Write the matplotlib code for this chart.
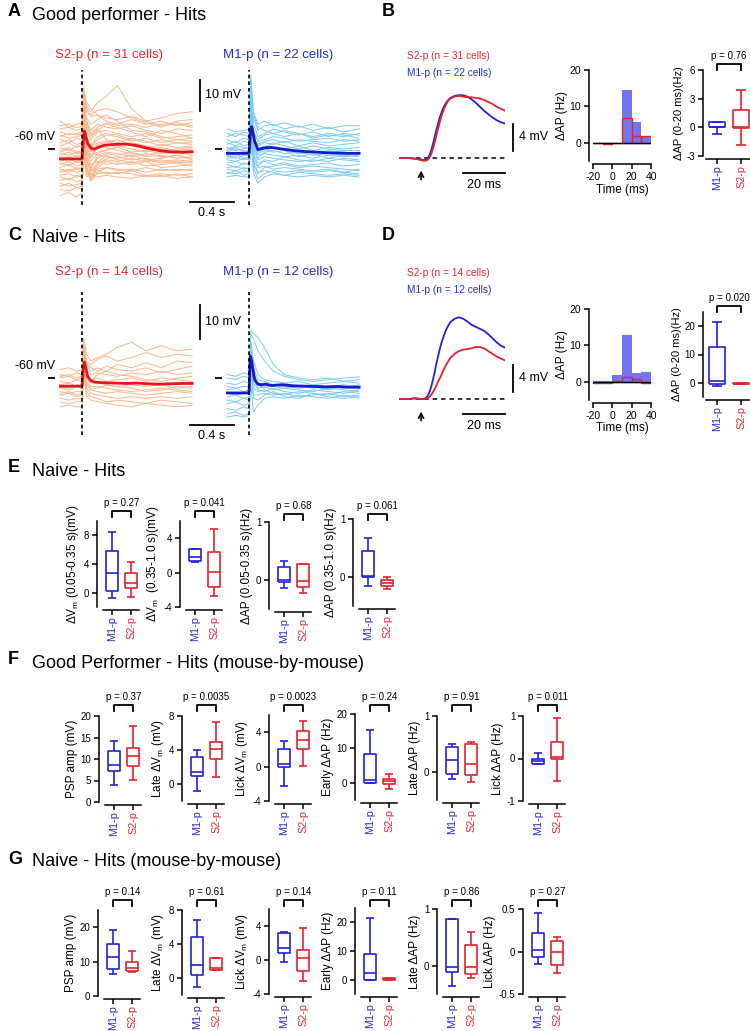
import matplotlib
matplotlib.use("Agg")
import matplotlib.pyplot as plt
import numpy as np
from matplotlib.lines import Line2D

plt.rcParams['font.family'] = ['Liberation Sans', 'DejaVu Sans']
plt.rcParams['mathtext.fontset'] = 'custom'
plt.rcParams['mathtext.rm'] = 'Liberation Sans'
plt.rcParams['mathtext.it'] = 'Liberation Sans:italic'
plt.rcParams['axes.linewidth'] = 1.1
plt.rcParams['axes.unicode_minus'] = False

# ---------------- data ----------------
# single-cell Vm traces, deviation from -60 mV, sampled at cell_t (s)
cell_t = [-0.2, -0.12, -0.05, 0.0, 0.015, 0.04, 0.08, 0.14, 0.22, 0.32, 0.45, 0.58, 0.72, 0.86, 1.0]
good_S2_cells = [
    [7.5, 8.0, 7.0, 7.2, 17.0, 12.0, 10.5, 11.0, 10.0, 9.5, 10.5, 9.0, 10.0, 11.5, 12.0],
    [4.0, 5.0, 4.5, 5.0, 20.0, 14.0, 12.0, 15.0, 17.0, 20.5, 13.0, 9.0, 7.5, 8.0, 7.0],
    [9.0, 7.0, 8.0, 8.5, 19.0, 15.0, 13.0, 11.0, 9.0, 8.0, 9.5, 8.0, 9.0, 7.5, 8.5],
    [2.0, 3.0, 1.5, 2.0, 14.0, 9.0, 6.0, 8.0, 7.0, 6.5, 7.5, 6.0, 5.0, 6.5, 6.0],
    [0.5, -0.5, 1.0, 0.5, 12.0, 6.0, 3.0, 5.5, 6.0, 5.0, 4.0, 5.0, 3.5, 4.0, 4.5],
    [5.5, 4.5, 5.0, 5.5, 15.0, 9.0, 4.0, 6.0, 8.0, 7.0, 5.5, 4.0, 6.0, 5.0, 3.5],
    [-1.0, 0.0, -1.5, -1.0, 11.0, 4.0, 1.0, 3.0, 4.5, 4.0, 2.5, 3.5, 2.0, 3.0, 2.5],
    [-2.5, -3.0, -2.0, -2.5, 10.0, 2.0, -1.0, 1.5, 2.0, 3.0, 1.0, 0.0, 1.5, 0.5, 1.0],
    [-3.5, -2.5, -4.0, -3.5, 9.0, 0.5, -2.0, 0.0, 1.5, 1.0, 0.0, -1.0, 0.5, -0.5, 0.0],
    [-4.5, -5.5, -4.0, -4.5, 8.0, -1.0, -4.0, -1.5, 0.0, 0.5, -1.0, -0.5, -1.5, -1.0, -2.0],
    [-6.0, -5.0, -6.5, -6.0, 6.0, -2.0, -6.0, -3.0, -1.5, -2.0, -1.0, -2.5, -2.0, -3.0, -2.5],
    [-7.0, -7.5, -6.5, -7.0, 5.0, -3.5, -8.0, -5.0, -3.0, -2.5, -3.5, -3.0, -4.0, -3.5, -4.0],
    [-8.5, -8.0, -9.0, -8.5, 4.0, -5.0, -10.0, -6.0, -4.0, -5.0, -4.0, -5.5, -5.0, -4.5, -5.5],
    [-10.0, -9.5, -10.5, -10.0, 2.0, -6.5, -10.5, -7.5, -6.0, -6.5, -7.0, -6.0, -7.0, -6.5, -7.0],
    [-12.0, -11.0, -12.5, -12.0, 0.0, -8.0, -9.0, -8.0, -7.5, -8.0, -7.0, -8.5, -8.0, -8.5, -8.0],
    [-15.0, -14.0, -15.5, -14.0, -1.0, -9.0, -8.0, -9.0, -8.5, -9.0, -9.5, -8.5, -9.0, -8.0, -9.0],
    [1.0, 2.0, 0.5, 1.5, 13.0, 7.0, 4.5, 6.5, 3.0, 2.0, 3.5, 2.5, 1.0, 2.0, 1.5],
    [-0.5, 0.5, -1.0, -0.5, 9.5, 3.0, 0.5, 2.0, 2.5, 1.5, 2.0, 1.0, 0.0, -1.0, -0.5],
    [3.0, 2.0, 3.5, 3.0, 16.0, 10.0, 8.0, 9.5, 11.0, 9.0, 6.0, 5.5, 4.0, 3.0, 3.5],
    [-2.0, -1.0, -2.5, -2.0, 7.0, 1.0, -0.5, -2.0, -2.5, -3.0, -2.0, -3.5, -3.0, -2.0, -3.0],
    [-5.0, -4.0, -5.5, -5.0, 5.0, -2.5, -5.0, -4.0, -5.0, -4.5, -5.0, -4.0, -6.0, -5.5, -5.0],
    [-9.0, -10.0, -8.5, -9.0, 3.0, -4.0, -7.0, -6.5, -6.0, -7.0, -6.5, -7.5, -6.5, -7.0, -6.5],
    [-11.0, -12.0, -11.5, -11.0, 1.0, -7.0, -9.5, -5.0, -3.5, -4.0, -3.0, -4.0, -3.5, -4.5, -4.0],
    [6.5, 7.0, 6.0, 6.5, 18.0, 13.0, 11.0, 12.5, 13.0, 12.0, 10.0, 8.5, 7.0, 9.0, 9.5],
    [-1.5, -2.0, -1.0, -1.5, 8.5, 2.5, 1.5, 4.0, 5.0, 4.5, 3.0, 2.0, 3.0, 2.0, 2.0],
    [-3.0, -4.0, -3.0, -3.5, 7.5, -0.5, -3.0, 1.0, 0.5, -0.5, -1.5, -2.0, -1.0, -1.5, -1.0],
    [-7.5, -6.5, -7.5, -7.0, 4.5, -4.5, -6.5, -2.0, -1.0, -1.5, -2.5, -1.5, -2.5, -2.0, -3.5],
    [-13.0, -13.5, -12.5, -13.0, 2.5, -6.0, -8.5, -7.0, -8.0, -7.5, -8.0, -9.0, -8.5, -9.5, -9.0],
    [4.5, 3.5, 4.0, 4.5, 14.0, 8.0, 5.0, 7.0, 8.5, 7.5, 8.0, 7.0, 8.0, 8.5, 7.5],
    [-4.0, -3.0, -4.5, -4.0, 6.5, 0.0, -2.5, -1.0, -0.5, 0.5, 1.5, 0.5, -0.5, 0.0, 0.5],
    [-6.5, -7.0, -6.0, -6.5, 5.5, -3.0, -7.0, -4.5, -2.0, -3.5, -4.5, -3.5, -4.5, -4.0, -4.5],
]
good_M1_cells = [
    [6.5, 5.5, 6.0, 6.5, 24.0, 12.0, 8.0, 9.0, 7.5, 8.5, 7.0, 8.0, 6.5, 7.5, 7.5],
    [4.0, 5.0, 4.5, 4.0, 20.0, 10.0, 6.0, 7.5, 8.0, 6.5, 7.5, 6.0, 7.0, 5.5, 6.5],
    [3.0, 2.0, 3.5, 3.0, 18.0, 8.0, 4.0, 5.0, 6.5, 5.5, 4.5, 5.5, 4.0, 5.0, 4.5],
    [1.5, 2.5, 1.0, 1.5, 16.0, 6.0, 2.5, 3.0, 4.0, 3.5, 2.5, 3.0, 3.5, 2.5, 3.0],
    [0.5, -0.5, 0.0, 0.5, 14.0, 4.0, 1.0, 2.0, 1.5, 2.5, 1.0, 2.0, 1.0, 1.5, 2.0],
    [-0.5, 0.5, -1.0, -0.5, 13.0, 3.0, 0.0, 1.0, 0.5, 0.0, 1.0, -0.5, 0.5, 0.0, 0.5],
    [-1.5, -2.0, -1.0, -1.5, 12.0, 1.5, -1.0, 0.0, -1.0, -0.5, -1.5, -1.0, -0.5, -1.0, -1.5],
    [-2.5, -1.5, -3.0, -2.5, 11.0, 0.5, -2.0, -1.5, -2.0, -2.5, -2.0, -3.0, -2.0, -2.5, -2.0],
    [-3.5, -4.0, -3.0, -3.5, 10.0, -1.0, -3.5, -2.5, -3.0, -3.5, -4.0, -3.5, -4.0, -3.0, -3.5],
    [-4.5, -4.0, -5.0, -4.5, 9.0, -2.0, -4.5, -4.0, -5.0, -4.5, -5.5, -5.0, -4.5, -5.5, -5.0],
    [-6.0, -5.5, -6.5, -6.0, 8.0, -3.5, -6.0, -5.5, -6.5, -6.0, -6.5, -7.0, -6.5, -7.5, -6.5],
    [-7.5, -8.0, -7.0, -7.5, 6.0, -5.0, -7.5, -7.0, -7.5, -8.5, -7.5, -8.0, -8.5, -8.0, -8.5],
    [-9.0, -8.5, -9.0, -9.0, 4.0, -8.0, -11.0, -9.0, -8.0, -8.5, -9.0, -8.5, -9.0, -8.5, -9.0],
    [2.0, 1.0, 2.5, 2.0, 15.0, 5.0, 3.0, 4.5, 5.0, 6.0, 5.0, 4.0, 5.0, 4.5, 3.5],
    [-1.0, 0.0, -0.5, -1.0, 11.5, 2.0, -0.5, 0.5, 2.0, 1.0, 0.0, 1.0, 0.0, -0.5, -0.5],
    [-3.0, -2.5, -3.5, -3.0, 9.5, 0.0, -3.0, -1.0, -0.5, -1.5, -1.0, -2.0, -1.5, -2.0, -2.5],
    [-5.0, -6.0, -4.5, -5.0, 8.5, -2.5, -5.5, -3.5, -4.0, -2.5, -3.5, -4.0, -3.0, -3.5, -4.0],
    [-6.5, -7.0, -6.0, -6.5, 7.0, -4.0, -8.0, -6.0, -5.5, -5.0, -6.0, -5.5, -6.0, -6.5, -7.0],
    [5.0, 4.0, 5.5, 5.0, 21.0, 11.0, 7.0, 6.0, 5.0, 4.0, 5.0, 3.5, 4.5, 4.0, 5.0],
    [0.0, 1.0, 0.5, 0.0, 12.5, 3.5, 1.5, 2.5, 3.0, 2.0, 3.0, 2.5, 2.0, 3.0, 2.5],
    [-2.0, -3.0, -2.0, -2.0, 10.5, 1.0, -1.5, -0.5, 0.5, -0.5, -2.5, -1.5, -3.0, -2.0, -1.0],
    [-8.0, -7.0, -8.5, -8.0, 5.0, -6.0, -9.5, -8.0, -7.0, -7.5, -7.0, -7.5, -7.0, -7.5, -8.0],
]
naive_S2_cells = [
    [2.5, 3.0, 2.0, 2.5, 11.5, 7.0, 5.0, 6.0, 7.0, 9.0, 10.5, 8.0, 9.5, 8.0, 8.5],
    [1.0, 0.5, 1.5, 1.0, 10.0, 5.0, 4.0, 5.5, 6.5, 5.0, 6.0, 7.5, 6.0, 7.0, 6.5],
    [0.0, 0.5, -0.5, 0.0, 9.0, 4.0, 2.0, 3.0, 2.0, 4.0, 3.0, 4.5, 3.0, 5.0, 4.5],
    [-1.0, -1.5, -0.5, -1.0, 8.0, 2.5, 1.0, 1.5, 1.0, 0.5, 1.5, 1.0, 2.0, 1.0, 1.5],
    [-2.0, -1.5, -2.5, -2.0, 7.0, 1.0, -0.5, 0.0, -1.0, -0.5, 0.0, -1.0, 0.0, -0.5, -1.0],
    [-3.0, -3.5, -2.5, -3.0, 6.0, 0.0, -1.5, -1.0, -2.0, -2.5, -2.0, -2.5, -2.0, -3.0, -2.5],
    [-4.0, -4.5, -4.0, -4.0, 5.0, -1.0, -2.5, -2.5, -3.0, -3.5, -4.0, -3.5, -3.0, -3.5, -4.0],
    [-5.0, -4.5, -5.5, -5.0, 4.0, -2.0, -3.5, -4.0, -4.5, -4.0, -4.5, -5.0, -4.5, -4.0, -4.5],
    [-6.0, -6.5, -6.0, -6.0, 3.0, -3.0, -4.5, -5.0, -5.5, -6.0, -5.5, -6.0, -5.5, -6.0, -5.5],
    [-7.0, -7.5, -7.0, -7.0, 2.0, -4.0, -5.5, -6.0, -7.0, -6.5, -7.0, -7.5, -6.5, -7.0, -7.5],
    [-8.5, -8.0, -8.5, -8.5, 1.0, -5.0, -6.5, -7.0, -7.5, -8.0, -8.5, -7.5, -8.0, -8.5, -8.0],
    [0.5, 1.0, 0.0, 0.5, 9.5, 4.5, 3.0, 2.0, 3.5, 2.5, 2.0, 3.0, 1.5, 2.5, 3.5],
    [-2.5, -3.0, -2.0, -2.5, 6.5, 0.5, -1.0, 1.0, 2.0, 1.0, 0.5, -0.5, -1.0, 0.0, 0.5],
    [-4.5, -4.0, -5.0, -4.5, 4.5, -1.5, -3.0, -3.0, -2.0, -2.5, -3.0, -4.0, -3.5, -2.5, -3.0],
]
naive_M1_cells = [
    [1.0, 0.5, 1.5, 1.0, 14.0, 13.0, 12.0, 9.0, 4.0, 1.0, 0.0, -0.5, 0.0, -1.0, -0.5],
    [0.0, -0.5, 0.5, 0.0, 13.0, 11.5, 8.0, 5.0, 2.0, 0.5, -0.5, -1.0, -0.5, 0.0, 0.3],
    [-1.5, -2.0, -1.0, -1.5, 11.0, 5.0, 1.0, -0.5, -1.0, -1.5, -1.0, -2.0, -1.5, -1.0, -1.5],
    [-2.5, -3.0, -2.5, -2.5, 10.0, 3.0, -0.5, -1.0, -2.0, -1.5, -2.5, -2.0, -2.5, -2.0, -2.5],
    [-3.5, -3.0, -4.0, -3.5, 9.0, 1.5, -1.5, -2.0, -2.5, -3.0, -2.5, -3.0, -2.5, -3.0, -2.0],
    [-4.5, -5.0, -4.5, -4.5, 8.0, 0.5, -2.0, -3.0, -2.0, -2.5, -3.0, -2.5, -3.5, -2.5, -3.0],
    [-5.5, -5.0, -6.0, -5.5, 7.0, -0.5, -3.0, -2.5, -3.5, -3.0, -3.5, -4.0, -3.0, -3.5, -4.0],
    [-6.5, -7.0, -6.0, -6.5, 6.0, -1.5, -3.5, -4.0, -3.0, -4.0, -4.5, -3.5, -4.0, -4.5, -3.5],
    [-7.5, -7.0, -8.0, -7.5, 5.0, -3.0, -4.0, -3.5, -4.5, -5.0, -4.0, -4.5, -5.0, -4.0, -4.5],
    [-9.0, -9.5, -8.5, -9.0, 3.0, -5.0, -5.0, -4.5, -5.0, -4.5, -5.5, -5.0, -4.5, -5.5, -5.0],
    [-10.5, -10.0, -11.0, -10.5, -2.0, -10.0, -8.0, -6.0, -5.5, -6.0, -5.0, -5.5, -6.0, -5.0, -5.9],
    [-11.5, -11.0, -11.5, -11.0, 2.0, -6.0, -6.5, -5.0, -4.0, -5.5, -6.0, -4.5, -5.5, -6.0, -5.5],
]
# population means (deviation from -60 mV)
mean_t = [-0.2, -0.1, -0.01, 0.0, 0.01, 0.02, 0.03, 0.05, 0.08, 0.11, 0.15, 0.2, 0.3, 0.4, 0.5, 0.6, 0.7, 0.8, 0.9, 1.0]
good_S2_mean = [-3.2, -3.2, -3.2, -3.0, 2.0, 5.8, 4.8, 1.8, 0.3, -0.1, 0.6, 1.2, 1.5, 1.6, 1.1, 0.2, -0.5, -0.9, -1.0, -0.9]
good_M1_mean = [-1.4, -1.4, -1.4, -1.2, 4.0, 7.2, 6.4, 2.5, -0.2, 0.1, 0.4, 0.5, 0.0, -0.5, -0.8, -1.0, -1.2, -1.3, -1.4, -1.4]
naive_S2_mean = [-2.4, -2.4, -2.4, -2.2, 2.5, 4.7, 3.5, 0.5, -0.8, -1.2, -1.3, -1.4, -1.5, -1.6, -1.5, -1.7, -1.8, -1.7, -1.6, -1.6]
naive_M1_mean = [-4.4, -4.4, -4.4, -4.0, 6.5, 5.5, 3.5, -0.5, -1.8, -2.0, -1.8, -2.2, -2.0, -2.3, -2.4, -2.5, -2.6, -2.5, -2.7, -2.7]

# early PSP averages (ms, mV)
psp_t = [-10, -6, -3, 0, 1, 2, 3, 4, 5, 6, 7, 8, 9, 10, 11, 12, 13, 14, 16, 18, 20, 22, 24, 26, 28, 30, 32, 34, 36, 38, 40]
good_M1_psp = [0, 0, -0.1, -0.2, -0.3, -0.3, -0.1, 0.4, 1.3, 2.5, 3.8, 5.0, 6.1, 7.0, 7.7, 8.2, 8.6, 8.9, 9.2, 9.3, 9.3, 9.1, 8.7, 8.2, 7.6, 7.0, 6.5, 6.0, 5.6, 5.3, 5.1]
good_S2_psp = [0, 0, -0.1, -0.3, -0.4, -0.4, -0.3, 0.0, 0.7, 1.7, 2.9, 4.2, 5.4, 6.5, 7.3, 8.0, 8.5, 8.8, 9.1, 9.2, 9.1, 9.0, 9.0, 8.9, 8.8, 8.6, 8.3, 8.0, 7.6, 7.3, 7.0]
naive_M1_psp = [0, 0, 0.1, 0, 0, 0.1, 0.4, 1.0, 2.0, 3.3, 4.8, 6.2, 7.5, 8.6, 9.5, 10.3, 10.9, 11.4, 11.9, 12.1, 11.9, 11.5, 11.0, 10.7, 10.4, 10.1, 9.6, 9.0, 8.4, 7.9, 7.6]
naive_S2_psp = [0, 0, 0.1, 0, 0, 0, 0.1, 0.3, 0.7, 1.2, 1.8, 2.5, 3.1, 3.8, 4.5, 5.1, 5.6, 6.1, 6.7, 7.1, 7.3, 7.4, 7.5, 7.7, 7.7, 7.5, 7.1, 6.7, 6.3, 6.0, 5.7]

# PSTH of delta AP (Hz), 10-ms bins
hist_left = [-20, -10, 0, 10, 20, 30]
good_M1_hist = [-0.1, -0.2, -0.1, 14.5, 5.7, 1.7]
good_S2_hist = [0.0, -0.3, -0.1, 6.8, 1.8, 1.8]
naive_M1_hist = [0.3, 0.3, 1.9, 12.8, 2.5, 2.8]
naive_S2_hist = [-0.2, -0.2, 0.2, 1.3, 0.9, -0.2]

# box plot summaries: [whisker low, q1, median, q3, whisker high]
B_m1 = [-0.65, 0.0, 0.0, 0.55, 0.55];  B_s2 = [-1.9, -0.05, 0.05, 1.78, 3.95]
D_m1 = [-1.0, -0.5, 0.8, 12.6, 21.5];  D_s2 = [-0.4, -0.3, -0.3, -0.2, -0.2]
E_m1 = [[-0.8, 0.3, 2.7, 5.8, 8.4], [1.2, 1.3, 1.8, 2.8, 2.8], [-0.13, -0.03, 0.0, 0.22, 0.32], [-0.15, 0.0, 0.02, 0.45, 0.68]]
E_s2 = [[-0.6, 0.7, 1.3, 2.7, 4.3], [-2.7, -1.7, 0.1, 2.4, 5.1], [-0.22, -0.12, -0.02, 0.28, 0.28], [-0.2, -0.15, -0.1, -0.05, 0.0]]
F_m1 = [[4.0, 7.2, 8.6, 11.9, 14.3], [-0.8, 1.0, 1.4, 3.2, 4.0], [-2.2, 0.0, 0.3, 2.0, 3.0],
        [0.0, 0.0, 0.7, 8.5, 15.3], [-0.13, -0.03, 0.22, 0.45, 0.5], [-0.13, -0.13, -0.05, 0.0, 0.13]]
F_s2 = [[5.2, 8.3, 10.8, 12.5, 17.7], [0.8, 3.0, 4.1, 5.0, 7.3], [0.1, 2.1, 3.1, 4.1, 5.3],
        [-1.7, -0.3, 0.5, 1.2, 2.6], [-0.18, -0.05, 0.15, 0.5, 0.54], [-0.53, -0.02, 0.03, 0.4, 0.95]]
G_m1 = [[6.3, 7.8, 11.3, 15.0, 19.2], [-1.1, 0.4, 1.5, 4.8, 6.8], [-0.2, 0.8, 1.4, 3.2, 3.3],
        [0.0, 0.0, 2.2, 8.8, 21.5], [-0.35, -0.12, -0.02, 0.83, 0.83], [-0.15, -0.06, 0.02, 0.22, 0.45]]
G_s2 = [[7.0, 7.3, 8.0, 9.9, 13.0], [0.9, 0.9, 1.2, 2.4, 2.4], [-2.5, -1.3, 0.2, 1.2, 3.8],
        [0.0, 0.0, 0.2, 0.5, 0.5], [-0.22, -0.15, -0.02, 0.37, 0.6], [-0.25, -0.16, 0.0, 0.12, 0.17]]
E_p = ['0.27', '0.041', '0.68', '0.061']
F_p = ['0.37', '0.0035', '0.0023', '0.24', '0.91', '0.011']
G_p = ['0.14', '0.61', '0.14', '0.11', '0.86', '0.27']
B_p, D_p = '0.76', '0.020'
groups = ['M1-p', 'S2-p']
E_labels = [r'ΔV$_\mathregular{m}$ (0.05-0.35 s)(mV)', r'ΔV$_\mathregular{m}$  (0.35-1.0 s)(mV)',
            'ΔAP (0.05-0.35 s)(Hz)', 'ΔAP (0.35-1.0 s)(Hz)']
FG_labels = ['PSP amp (mV)', r'Late ΔV$_\mathregular{m}$ (mV)', r'Lick ΔV$_\mathregular{m}$ (mV)',
             'Early ΔAP (Hz)', 'Late ΔAP (Hz)', 'Lick ΔAP (Hz)']

# ---------------- style ----------------
RED, BLUE = '#e3232c', '#2323d6'
RED_T, BLUE_T = '#e8282f', '#2a2ad8'
RED_LIGHT, BLUE_LIGHT = '#fbb68c', '#7ccaf2'
RED_MEAN, BLUE_MEAN = '#e5151b', '#1818c8'
HIST_BLUE = '#7474f0'

W, H = 750, 1031
fig = plt.figure(figsize=(7.5, 10.31), dpi=100)


def ax_px(x0, y0, x1, y1):
    return fig.add_axes([x0 / W, 1 - y1 / H, (x1 - x0) / W, (y1 - y0) / H])


def ftext(x, y, s, **kw):
    kw.setdefault('va', 'center')
    fig.text(x / W, 1 - y / H, s, **kw)


def fline(xs, ys, **kw):
    fig.add_artist(Line2D([x / W for x in xs], [1 - y / H for y in ys],
                          transform=fig.transFigure, **kw))


def panel_title(letter, title, y):
    ftext(8, y - 3, letter, fontsize=13, fontweight='bold', ha='left')
    ftext(32, y, title, fontsize=13, ha='left')


# ---------------- trace panels (A, C) ----------------
PXS = 110.0  # px per second


def trace_axes(x0, y_top, y_bot, y60, pxmv, cells, mean, c_light, c_mean):
    t0, t1 = -0.21, 1.02
    ax = ax_px(x0, y_top, x0 + (t1 - t0) * PXS, y_bot)
    ax.set_xlim(t0, t1)
    ax.set_ylim(-60 - (y_bot - y60) / pxmv, -60 + (y60 - y_top) / pxmv)
    for tr in cells:
        ax.plot(cell_t, -60 + np.array(tr), color=c_light, lw=0.7)
    ax.plot(mean_t, -60 + np.array(mean), color=c_mean, lw=2.0)
    ax.axvline(0, color='k', ls=(0, (2.2, 1.8)), lw=1.2)
    for sp in ax.spines.values():
        sp.set_visible(False)
    ax.set_xticks([])
    ax.set_yticks([-60])
    ax.set_yticklabels([''])
    ax.spines['left'].set_position(('outward', 3))
    ax.tick_params(axis='y', length=5, width=1.3)
    ax.patch.set_alpha(0)
    return ax


def trace_row(y_top, y_bot, y60, pxmv, s2c, s2m, m1c, m1m, n_s2, n_m1, lab_y):
    trace_axes(59, y_top, y_bot, y60, pxmv, s2c, s2m, RED_LIGHT, RED_MEAN)
    trace_axes(226, y_top, y_bot, y60, pxmv, m1c, m1m, BLUE_LIGHT, BLUE_MEAN)
    ftext(109, lab_y, f'S2-p (n = {n_s2} cells)', color=RED_T, fontsize=9.5, ha='center')
    ftext(278, lab_y, f'M1-p (n = {n_m1} cells)', color=BLUE_T, fontsize=9.5, ha='center')
    ftext(35, y60 - 12, '-60 mV', fontsize=9, ha='center')


panel_title('A', 'Good performer - Hits', 15)
trace_row(70, 205, 149, 3.1, good_S2_cells, good_S2_mean, good_M1_cells, good_M1_mean,
          len(good_S2_cells), len(good_M1_cells), 55)
fline([200, 200], [80, 80 + 10 * 3.1], color='k', lw=1.3)
ftext(205, 95, '10 mV', fontsize=9, ha='left')
fline([190, 190 + 0.4 * PXS], [202, 202], color='k', lw=1.3)
ftext(212, 213, '0.4 s', fontsize=9, ha='center')

panel_title('C', 'Naive - Hits', 238)
trace_row(292, 435, 378, 3.4, naive_S2_cells, naive_S2_mean, naive_M1_cells, naive_M1_mean,
          len(naive_S2_cells), len(naive_M1_cells), 272)
fline([200, 200], [305, 305 + 10 * 3.4], color='k', lw=1.3)
ftext(205, 322, '10 mV', fontsize=9, ha='left')
fline([190, 190 + 0.4 * PXS], [425, 425], color='k', lw=1.3)
ftext(212, 436, '0.4 s', fontsize=9, ha='center')

# ---------------- PSP averages (B, D) ----------------
PXMS, PXMV = 2.1, 6.75


def psp_axes(y_top, y_bot, y0, m1, s2, n_s2, n_m1, lab_y):
    x0 = 399
    ax = ax_px(x0, y_top, x0 + 50.5 * PXMS, y_bot)
    ax.set_xlim(-10.5, 40)
    ax.set_ylim(-(y_bot - y0) / PXMV, (y0 - y_top) / PXMV)
    ax.axhline(0, color='k', ls=(0, (3, 2.5)), lw=1.1)
    ax.plot(psp_t, m1, color=BLUE, lw=1.3)
    ax.plot(psp_t, s2, color=RED, lw=1.3)
    ax.axis('off')
    ax.annotate('', xy=(0, -1.45), xytext=(0, -3.6), annotation_clip=False,
                arrowprops=dict(arrowstyle='->,head_length=0.35,head_width=0.18', lw=1.2, color='k'))
    ftext(407, lab_y, f'S2-p (n = {n_s2} cells)', color=RED_T, fontsize=7.3, ha='left')
    ftext(407, lab_y + 17, f'M1-p (n = {n_m1} cells)', color=BLUE_T, fontsize=7.3, ha='left')
    # scale bars
    yb = y0 - 34
    fline([513, 513], [yb, yb + 4 * PXMV], color='k', lw=1.3)
    ftext(519, yb + 2 * PXMV, '4 mV', fontsize=9, ha='left')
    fline([463, 463 + 20 * PXMS], [y0 + 15, y0 + 15], color='k', lw=1.3)
    ftext(484, y0 + 27, '20 ms', fontsize=9, ha='center')
    return ax


def hist_axes(y_top, y_bot, m1h, s2h):
    ax = ax_px(593, y_top, 651, y_bot)
    ax.bar(hist_left, m1h, width=10, align='edge', color=HIST_BLUE, lw=0)
    ax.bar(hist_left, s2h, width=10, align='edge', facecolor='none', edgecolor=RED, lw=1.0)
    ax.axhline(0, color='k', lw=1.0)
    ax.set_xlim(-20, 40)
    ax.set_ylim(-5, 20)
    ax.set_xticks([-20, 0, 20, 40])
    ax.set_yticks([0, 10, 20])
    for s in ['top', 'right']:
        ax.spines[s].set_visible(False)
    ax.spines['left'].set_position(('outward', 3))
    ax.spines['bottom'].set_position(('outward', 2.5))
    ax.tick_params(labelsize=7.5, length=3.5, width=1.1, pad=2)
    ax.set_ylabel('ΔAP (Hz)', fontsize=8.5, labelpad=1)
    ax.set_xlabel('Time (ms)', fontsize=8.5, labelpad=1)
    ax.patch.set_alpha(0)
    return ax


def box_axes(x_m1, sp, y_top, y_bot, ylim, yticks, m1, s2, ylabel, p, br_y, yoff=4.7,
             width=0.62, fs_lab=8.5):
    xl = (-0.45, 1.4)
    ax = ax_px(x_m1 + xl[0] * sp, y_top, x_m1 + xl[1] * sp, y_bot)
    stats = [dict(whislo=s[0], q1=s[1], med=s[2], q3=s[3], whishi=s[4], fliers=[]) for s in (m1, s2)]
    art = ax.bxp(stats, positions=[0, 1], widths=width, showfliers=False, manage_ticks=False,
                 capwidths=width * 0.6)
    for i, c in enumerate([BLUE, RED]):
        for a in [art['boxes'][i], art['medians'][i], art['whiskers'][2 * i], art['whiskers'][2 * i + 1],
                  art['caps'][2 * i], art['caps'][2 * i + 1]]:
            a.set_color(c)
            a.set_linewidth(1.2)
            a.set_solid_capstyle('butt')
    ax.set_xlim(*xl)
    ax.set_ylim(*ylim)
    ax.set_yticks(yticks)
    ax.set_yticklabels([f'{v:g}' for v in yticks])
    ax.set_xticks([0, 1])
    ax.set_xticklabels(groups)
    for s in ['top', 'right']:
        ax.spines[s].set_visible(False)
    ax.spines['left'].set_position(('outward', yoff))
    ax.spines['bottom'].set_position(('outward', 2.2))
    ax.tick_params(axis='y', labelsize=7, length=3.5, width=1.1, pad=2)
    ax.tick_params(axis='x', length=3.5, width=1.1, pad=0.8, labelrotation=90, labelsize=7.8)
    for lbl, c in zip(ax.get_xticklabels(), [BLUE_T, RED_T]):
        lbl.set_color(c)
    ax.set_ylabel(ylabel, fontsize=fs_lab, labelpad=2)
    ax.patch.set_alpha(0)
    # significance bracket
    xa, xb = x_m1, x_m1 + sp
    fline([xa, xa, xb, xb], [br_y + 6, br_y, br_y, br_y + 6], color='k', lw=1.3)
    ftext((xa + xb) / 2, br_y - 8, f'p = {p}', fontsize=7, ha='center')
    return ax


ftext(382, 12, 'B', fontsize=13, fontweight='bold', ha='left')
psp_axes(80, 185, 158, good_M1_psp, good_S2_psp, 31, 22, 56)
hist_axes(70, 161, good_M1_hist, good_S2_hist)
box_axes(717, 24, 70, 156, (-3, 6), [-3, 0, 3, 6], B_m1, B_s2, 'ΔAP (0-20 ms)(Hz)', B_p, 64,
         yoff=2.4, width=0.68, fs_lab=8)

ftext(382, 235, 'D', fontsize=13, fontweight='bold', ha='left')
psp_axes(305, 420, 399, naive_M1_psp, naive_S2_psp, 14, 12, 273)
hist_axes(309, 400, naive_M1_hist, naive_S2_hist)
box_axes(717, 24, 312, 397, (-5, 25), [0, 10, 20], D_m1, D_s2, 'ΔAP (0-20 ms)(Hz)', D_p, 306,
         yoff=2.4, width=0.68, fs_lab=8)

# ---------------- E ----------------
panel_title('E', 'Naive - Hits', 471)
E_geom = [(112, 521, 607, (-2, 10), [0, 4, 8], 511),
          (195, 521, 607, (-4, 6), [-4, 0, 4], 511),
          (284, 522, 609, (-0.5, 1), [0, 1], 514),
          (368, 519, 606, (-0.5, 1), [0, 1], 514)]
for i, (xm, yt, yb, yl, yt_, bry) in enumerate(E_geom):
    box_axes(xm, 19, yt, yb, yl, yt_, E_m1[i], E_s2[i], E_labels[i], E_p[i], bry)

# ---------------- F ----------------
panel_title('F', 'Good Performer - Hits (mouse-by-mouse)', 663)
F_geom = [(114, 716, 802, (0, 20), [0, 5, 10, 15, 20]),
          (197, 716, 801, (-2, 8), [0, 4, 8]),
          (284, 715, 801, (-4, 6), [-4, 0, 4]),
          (370, 714, 800, (-5, 20), [0, 10, 20]),
          (452, 716, 800, (-0.5, 1), [0, 1]),
          (538, 716, 801, (-1, 1), [-1, 0, 1])]
for i, (xm, yt, yb, yl, yt_) in enumerate(F_geom):
    box_axes(xm, 19, yt, yb, yl, yt_, F_m1[i], F_s2[i], FG_labels[i], F_p[i], 705)

# ---------------- G ----------------
panel_title('G', 'Naive - Hits (mouse-by-mouse)', 862)
G_geom = [(113, 910, 996, (0, 25), [0, 10, 20]),
          (197, 910, 995, (-2, 8), [0, 4, 8]),
          (284, 909, 994, (-4, 6), [-4, 0, 4]),
          (370, 908, 994, (-5, 25), [0, 10, 20]),
          (452, 909, 994, (-0.5, 1), [0, 1]),
          (538, 909, 994, (-0.5, 0.5), [-0.5, 0, 0.5])]
for i, (xm, yt, yb, yl, yt_) in enumerate(G_geom):
    box_axes(xm, 19, yt, yb, yl, yt_, G_m1[i], G_s2[i], FG_labels[i], G_p[i], 900)

fig.savefig('out.png', dpi=100)
